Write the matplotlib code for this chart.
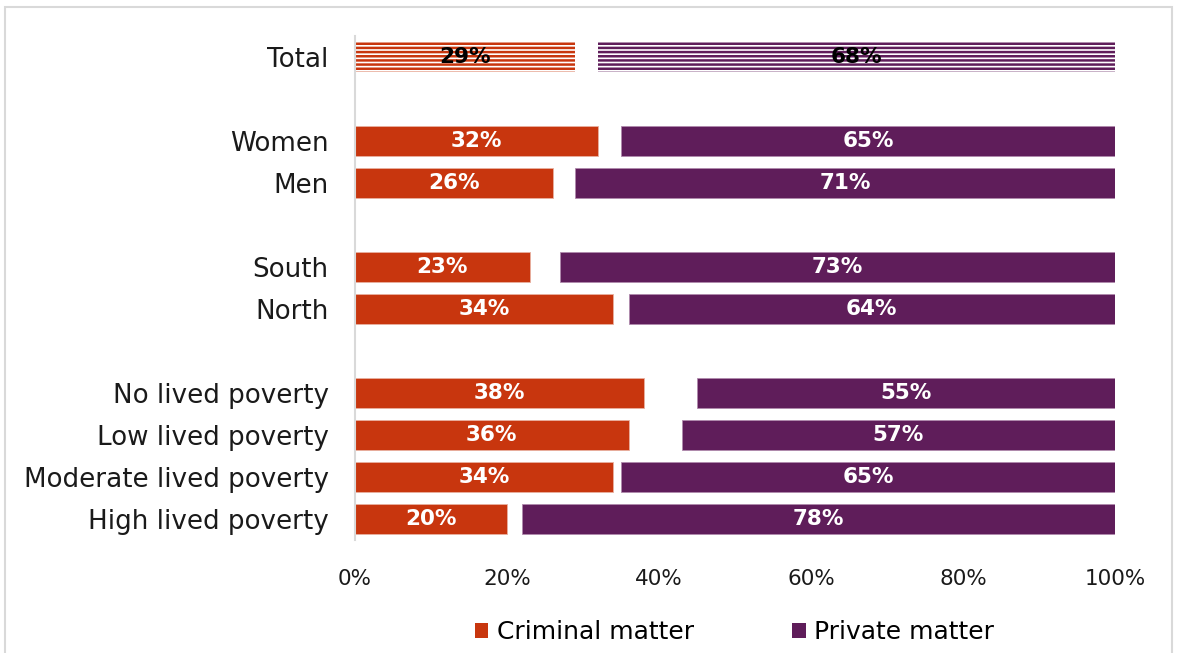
import matplotlib
matplotlib.use("Agg")
import matplotlib.pyplot as plt
from matplotlib.patches import Rectangle, Patch

plt.rcParams['font.family'] = ['DejaVu Sans']
plt.rcParams['hatch.linewidth'] = 1.8

categories = ["Total", "Women", "Men", "South", "North",
              "No lived poverty", "Low lived poverty",
              "Moderate lived poverty", "High lived poverty"]
criminal = [29, 32, 26, 23, 34, 38, 36, 34, 20]
private = [68, 65, 71, 73, 64, 55, 57, 65, 78]
slots = [0, 2, 3, 5, 6, 8, 9, 10, 11]
x_ticks = [0, 20, 40, 60, 80, 100]

c_crim = "#C8360E"
c_priv = "#5F1D5A"

fig = plt.figure(figsize=(11.77, 6.53), dpi=100)
ax = fig.add_axes([0.3016, 0.173, 0.6457, 0.7719])

h = 0.72
for cat, c, p, y in zip(categories, criminal, private, slots):
    start_p = 100 - p
    if cat == "Total":
        ax.barh(y, c, height=h, left=0, color="white", edgecolor=c_crim,
                hatch="----", linewidth=0)
        ax.barh(y, p, height=h, left=start_p, color="white", edgecolor=c_priv,
                hatch="----", linewidth=0)
        tc = "black"
    else:
        ax.barh(y, c, height=h, left=0, color=c_crim, edgecolor="#E8B0A0",
                linewidth=0.6)
        ax.barh(y, p, height=h, left=start_p, color=c_priv, edgecolor="#B08AAD",
                linewidth=0.6)
        tc = "white"
    ax.text(c / 2, y, f"{c}%", ha="center", va="center", color=tc,
            fontsize=15.5, fontweight="bold")
    ax.text(start_p + p / 2, y, f"{p}%", ha="center", va="center", color=tc,
            fontsize=15.5, fontweight="bold")

ax.set_xlim(0, 100)
ax.set_ylim(11.5, -0.5)
ax.set_yticks(slots)
ax.set_yticklabels(categories, fontsize=18.8, color="#1a1a1a")
ax.set_xticks(x_ticks)
ax.set_xticklabels([f"{t}%" for t in x_ticks], fontsize=15.5, color="#1a1a1a")
ax.tick_params(axis="both", length=0)
ax.tick_params(axis="y", pad=19)
ax.tick_params(axis="x", pad=21)
for s in ["top", "right", "bottom"]:
    ax.spines[s].set_visible(False)
ax.spines["left"].set_color("#D9D9D9")
ax.spines["left"].set_linewidth(1.5)

handles = [Patch(facecolor=c_crim, label="Criminal matter"),
           Patch(facecolor=c_priv, label="Private matter")]
fig.legend(handles=handles, loc="center", bbox_to_anchor=(0.624, 0.032),
           ncol=2, frameon=False, fontsize=18, handlelength=0.55,
           handleheight=0.55, handletextpad=0.35, columnspacing=3.9)

fig.patches.append(Rectangle((5 / 1177, -0.01), 1 - 10 / 1177, 1 - 7 / 653 + 0.01,
                             transform=fig.transFigure, fill=False,
                             edgecolor="#D9D9D9", linewidth=1.5))

fig.savefig("out.png", dpi=100)
